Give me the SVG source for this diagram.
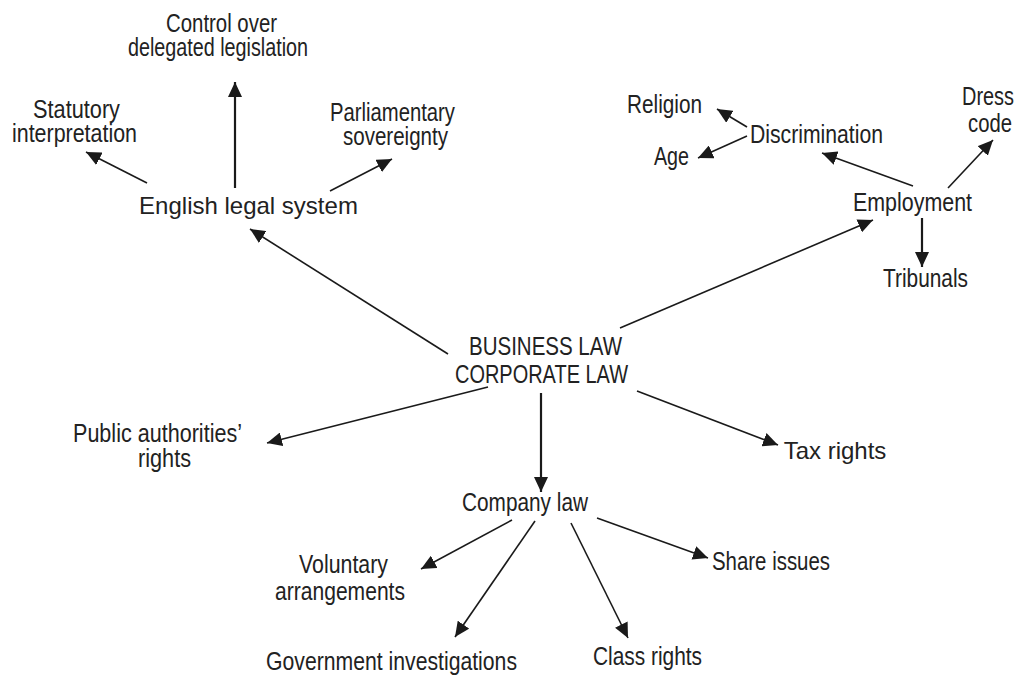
<svg xmlns="http://www.w3.org/2000/svg" width="1020" height="675" viewBox="0 0 1020 675">
<style>
.c{font-family:"Liberation Sans",Arial,sans-serif;font-size:25px;fill:#222;text-anchor:middle}
.r{font-family:"Liberation Sans",Arial,sans-serif;font-size:24px;fill:#222;text-anchor:middle}
.e line{stroke:#1a1a1a;stroke-width:1.6;marker-end:url(#ah)}
.e line.v{stroke-width:2.2}
</style>
<defs>
<marker id="ah" markerUnits="userSpaceOnUse" markerWidth="15" markerHeight="14" refX="15" refY="7" orient="auto" viewBox="0 0 15 14">
<path d="M0,0 L15,7 L0,14 z" fill="#1a1a1a"/>
</marker>
</defs>
<rect width="1020" height="675" fill="#fff"/>
<g class="e" id="connectors">
<line x1="448" y1="354" x2="250" y2="229"/>
<line class="v" x1="235" y1="188" x2="235" y2="82"/>
<line x1="147" y1="183" x2="86" y2="152"/>
<line x1="330" y1="191" x2="392" y2="159"/>
<line x1="620" y1="328" x2="873" y2="220"/>
<line x1="913" y1="186" x2="822" y2="153"/>
<line x1="948" y1="188" x2="993" y2="140"/>
<line class="v" x1="922" y1="218" x2="922" y2="267"/>
<line x1="747" y1="127" x2="717" y2="109"/>
<line x1="747" y1="136" x2="698" y2="158"/>
<line x1="488" y1="387" x2="267" y2="443"/>
<line class="v" x1="541" y1="393" x2="541" y2="492"/>
<line x1="637" y1="391" x2="778" y2="445"/>
<line x1="512" y1="520" x2="421" y2="569"/>
<line x1="535" y1="521" x2="455" y2="637"/>
<line x1="571" y1="523" x2="628" y2="638"/>
<line x1="597" y1="518" x2="708" y2="558"/>
</g>
<g id="business"><text class="c" x="545.5" y="355" textLength="153" lengthAdjust="spacingAndGlyphs">BUSINESS LAW</text><text class="c" x="541.5" y="383" textLength="173" lengthAdjust="spacingAndGlyphs">CORPORATE LAW</text></g>
<g id="english"><text class="r" x="248.5" y="214">English legal system</text></g>
<g id="control"><text class="c" x="221.5" y="32" textLength="111" lengthAdjust="spacingAndGlyphs">Control over</text><text class="c" x="218" y="56" textLength="180" lengthAdjust="spacingAndGlyphs">delegated legislation</text></g>
<g id="statutory"><text class="c" x="76.5" y="118" textLength="87" lengthAdjust="spacingAndGlyphs">Statutory</text><text class="c" x="74.5" y="142" textLength="125" lengthAdjust="spacingAndGlyphs">interpretation</text></g>
<g id="parliamentary"><text class="c" x="392.5" y="121" textLength="125" lengthAdjust="spacingAndGlyphs">Parliamentary</text><text class="c" x="395.5" y="145" textLength="105" lengthAdjust="spacingAndGlyphs">sovereignty</text></g>
<g id="employment"><text class="c" x="912.5" y="211" textLength="119" lengthAdjust="spacingAndGlyphs">Employment</text></g>
<g id="discrimination"><text class="c" x="816.5" y="143" textLength="133" lengthAdjust="spacingAndGlyphs">Discrimination</text></g>
<g id="religion"><text class="c" x="664.5" y="113" textLength="75" lengthAdjust="spacingAndGlyphs">Religion</text></g>
<g id="age"><text class="c" x="671.5" y="165" textLength="35" lengthAdjust="spacingAndGlyphs">Age</text></g>
<g id="dresscode"><text class="c" x="988" y="105" textLength="52" lengthAdjust="spacingAndGlyphs">Dress</text><text class="c" x="990" y="132" textLength="44" lengthAdjust="spacingAndGlyphs">code</text></g>
<g id="tribunals"><text class="c" x="925.5" y="287" textLength="85" lengthAdjust="spacingAndGlyphs">Tribunals</text></g>
<g id="public"><text class="c" x="157.5" y="442" textLength="169" lengthAdjust="spacingAndGlyphs">Public authorities’</text><text class="c" x="164.5" y="467" textLength="53" lengthAdjust="spacingAndGlyphs">rights</text></g>
<g id="tax"><text class="r" x="835" y="459">Tax rights</text></g>
<g id="company"><text class="c" x="525" y="511" textLength="126" lengthAdjust="spacingAndGlyphs">Company law</text></g>
<g id="voluntary"><text class="c" x="343.5" y="573" textLength="89" lengthAdjust="spacingAndGlyphs">Voluntary</text><text class="c" x="340" y="600" textLength="130" lengthAdjust="spacingAndGlyphs">arrangements</text></g>
<g id="share"><text class="c" x="771" y="570" textLength="118" lengthAdjust="spacingAndGlyphs">Share issues</text></g>
<g id="government"><text class="c" x="391.5" y="670" textLength="251" lengthAdjust="spacingAndGlyphs">Government investigations</text></g>
<g id="class"><text class="c" x="647.5" y="665" textLength="109" lengthAdjust="spacingAndGlyphs">Class rights</text></g>
</svg>
